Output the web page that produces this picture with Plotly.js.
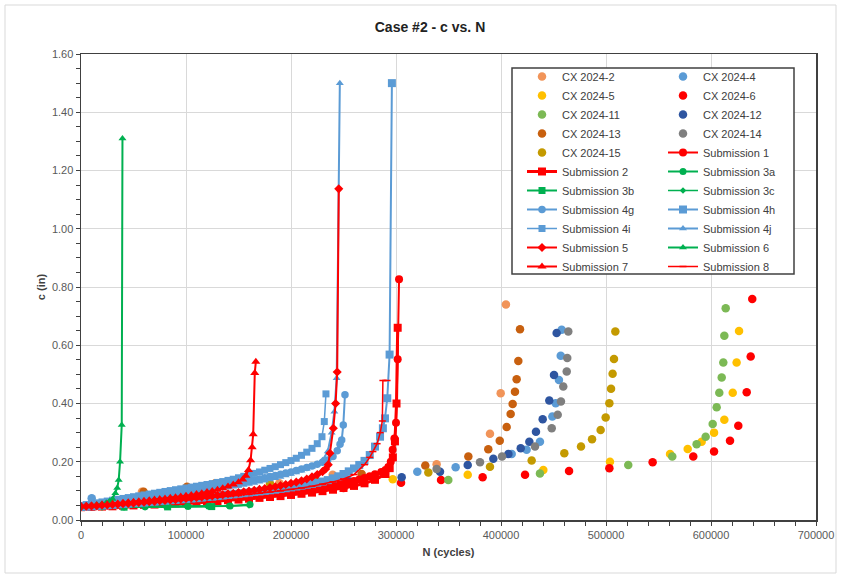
<!DOCTYPE html>
<html>
<head>
<meta charset="utf-8">
<script src="https://cdn.plot.ly/plotly-3.0.1.min.js"></script>
<style>html,body{margin:0;padding:0;background:#fff;}#chart{width:841px;height:577px;}</style>
</head>
<body>
<div id="chart"></div>
<script>
// ---------- CX test data (markers only) ----------
const cx2_N = [58000, 100600, 188900, 239700, 338700, 389500, 399700, 404700];
const cx2_c = [0.097, 0.112, 0.126, 0.155, 0.191, 0.296, 0.435, 0.740];

const cx4_N = [10200, 150000, 254000, 320300, 356800, 410200, 424400, 437100, 448900, 452100, 455200, 456900, 457800];
const cx4_c = [0.075, 0.125, 0.140, 0.166, 0.181, 0.227, 0.241, 0.269, 0.355, 0.401, 0.481, 0.564, 0.653];

const cx5_N = [100000, 200000, 296900, 368300, 440300, 503800, 561000, 577800, 591100, 602900, 612700, 620700, 624400, 626700];
const cx5_c = [0.092, 0.118, 0.140, 0.155, 0.172, 0.200, 0.227, 0.244, 0.269, 0.300, 0.344, 0.437, 0.541, 0.649];

const cx6_N = [150000, 250000, 304800, 342900, 382500, 422900, 464800, 503200, 544400, 583100, 602900, 618100, 626000, 634000, 637800, 639300];
const cx6_c = [0.090, 0.110, 0.128, 0.137, 0.147, 0.155, 0.168, 0.178, 0.198, 0.218, 0.235, 0.272, 0.324, 0.439, 0.561, 0.759];

const cx11_N = [260000, 349800, 437100, 521200, 563100, 586300, 594900, 601600, 605400, 607900, 610200, 611700, 612700, 614000];
const cx11_c = [0.120, 0.137, 0.160, 0.189, 0.218, 0.260, 0.286, 0.330, 0.387, 0.437, 0.489, 0.541, 0.633, 0.727];

const cx12_N = [254600, 305400, 341900, 368300, 392700, 407000, 418800, 427000, 433300, 439700, 446000, 450500, 453000];
const cx12_c = [0.132, 0.147, 0.166, 0.189, 0.210, 0.227, 0.246, 0.269, 0.303, 0.346, 0.410, 0.498, 0.642];

const cx13_N = [59700, 101000, 127900, 222900, 267300, 327900, 368900, 387900, 398800, 405400, 409200, 411100, 413300, 414900, 416500, 418100];
const cx13_c = [0.097, 0.114, 0.126, 0.143, 0.158, 0.187, 0.218, 0.243, 0.272, 0.319, 0.364, 0.398, 0.440, 0.483, 0.546, 0.655];

const cx14_N = [280000, 338700, 380000, 401000, 432400, 448300, 454000, 457100, 459300, 462600, 463100, 464100];
const cx14_c = [0.148, 0.175, 0.198, 0.218, 0.252, 0.315, 0.361, 0.407, 0.458, 0.510, 0.556, 0.647];

const cx15_N = [90000, 180000, 330800, 389500, 429200, 460300, 476200, 486700, 494900, 499700, 503200, 504800, 506300, 507600, 508900];
const cx15_c = [0.098, 0.125, 0.163, 0.183, 0.204, 0.229, 0.252, 0.277, 0.309, 0.352, 0.401, 0.451, 0.502, 0.553, 0.647];

// ---------- Submissions (lines + markers) ----------
const s1_N = [0,5000,10000,15000,20000,25000,30000,35000,40000,45000,50000,55000,60000,65000,70000,75000,80000,85000,90000,95000,100000,105000,110000,115000,120000,125000,130000,135000,140000,145000,150000,155000,160000,165000,170000,175000,180000,185000,190000,195000,200000,205000,210000,215000,220000,225000,230000,235000,240000,245000,250000,255000,260000,265000,270000,275000,280000,286000,290000,292700,295000,296800,298500,300000,301600,302900];
const s1_c = [0.045,0.046,0.046,0.047,0.048,0.049,0.050,0.051,0.052,0.053,0.054,0.055,0.056,0.057,0.058,0.059,0.060,0.061,0.063,0.064,0.065,0.066,0.068,0.069,0.070,0.072,0.073,0.075,0.076,0.078,0.079,0.081,0.083,0.084,0.086,0.088,0.090,0.092,0.094,0.096,0.098,0.100,0.103,0.105,0.108,0.110,0.113,0.116,0.119,0.122,0.126,0.130,0.134,0.139,0.144,0.150,0.157,0.165,0.172,0.182,0.200,0.241,0.280,0.334,0.552,0.827];

const s2_N = [0,10000,20000,30000,40000,50000,60000,70000,80000,90000,100000,110000,120000,130000,140000,150000,160000,170000,180000,190000,200000,210000,220000,230000,240000,250000,260000,270000,280000,290000,294000,297000,299000,300500,301600];
const s2_c = [0.044,0.045,0.046,0.047,0.049,0.050,0.052,0.053,0.055,0.057,0.059,0.061,0.063,0.065,0.068,0.070,0.073,0.076,0.079,0.082,0.086,0.090,0.094,0.099,0.104,0.110,0.117,0.126,0.138,0.158,0.178,0.215,0.270,0.400,0.660];

const s3a_N = [0, 20000, 41000, 61000, 82500, 102000, 122000, 142000, 161000];
const s3a_c = [0.046, 0.045, 0.045, 0.045, 0.046, 0.046, 0.047, 0.048, 0.053];

const s3b_N = [0, 41000, 82500, 124500];
const s3b_c = [0.044, 0.044, 0.045, 0.046];

const s3c_N = [0, 20000, 40000, 60000, 80000, 100000, 120000, 140000, 160000];
const s3c_c = [0.045, 0.045, 0.046, 0.046, 0.046, 0.047, 0.047, 0.048, 0.050];

const s4g_N = [0,5000,10000,15000,20000,25000,30000,35000,40000,45000,50000,55000,60000,65000,70000,75000,80000,85000,90000,95000,100000,105000,110000,115000,120000,125000,130000,135000,140000,145000,150000,155000,160000,165000,170000,175000,180000,185000,190000,195000,200000,205000,210000,215000,220000,225000,230000,235000,240000,244000,246700,248300,249800,251400];
const s4g_c = [0.048,0.050,0.052,0.054,0.057,0.059,0.061,0.064,0.066,0.068,0.071,0.073,0.076,0.078,0.081,0.083,0.086,0.088,0.091,0.094,0.097,0.099,0.102,0.105,0.108,0.111,0.114,0.117,0.120,0.124,0.127,0.130,0.134,0.137,0.141,0.145,0.149,0.153,0.157,0.161,0.165,0.170,0.175,0.180,0.185,0.191,0.198,0.206,0.218,0.238,0.260,0.275,0.326,0.430];

const s4h_N = [0,5000,10000,15000,20000,25000,30000,35000,40000,45000,50000,55000,60000,65000,70000,75000,80000,85000,90000,95000,100000,105000,110000,115000,120000,125000,130000,135000,140000,145000,150000,155000,160000,165000,170000,175000,180000,185000,190000,195000,200000,205000,210000,215000,220000,225000,230000,235000,240000,245000,250000,255000,260000,265000,270000,275000,280000,284800,287500,289500,291700,293900,296100];
const s4h_c = [0.045,0.046,0.047,0.049,0.050,0.051,0.052,0.054,0.055,0.056,0.058,0.059,0.060,0.062,0.063,0.065,0.066,0.068,0.069,0.071,0.072,0.074,0.075,0.077,0.079,0.080,0.082,0.084,0.086,0.088,0.090,0.092,0.094,0.096,0.098,0.100,0.102,0.104,0.107,0.109,0.112,0.115,0.118,0.121,0.124,0.128,0.132,0.137,0.143,0.150,0.158,0.167,0.177,0.189,0.203,0.223,0.252,0.286,0.315,0.349,0.418,0.568,1.500];

const s4i_N = [0,5000,10000,15000,20000,25000,30000,35000,40000,45000,50000,55000,60000,65000,70000,75000,80000,85000,90000,95000,100000,105000,110000,115000,120000,125000,130000,135000,140000,145000,150000,155000,160000,165000,170000,175000,180000,185000,190000,195000,200000,205000,210000,215000,220000,225000,229500,231700,233300];
const s4i_c = [0.050,0.053,0.056,0.059,0.062,0.065,0.068,0.071,0.074,0.077,0.080,0.083,0.086,0.089,0.092,0.095,0.098,0.101,0.104,0.107,0.110,0.113,0.116,0.119,0.122,0.125,0.129,0.132,0.136,0.140,0.145,0.150,0.155,0.160,0.165,0.171,0.177,0.183,0.190,0.197,0.204,0.212,0.222,0.233,0.246,0.262,0.286,0.338,0.433];

const s4j_N = [0,5000,10000,15000,20000,25000,30000,35000,40000,45000,50000,55000,60000,65000,70000,75000,80000,85000,90000,95000,100000,105000,110000,115000,120000,125000,130000,135000,140000,145000,150000,155000,160000,165000,170000,175000,180000,185000,190000,195000,200000,205000,210000,215000,220000,225000,230000,235000,238700,241300,243500,246500];
const s4j_c = [0.047,0.049,0.051,0.053,0.055,0.057,0.059,0.061,0.063,0.065,0.067,0.069,0.071,0.073,0.075,0.077,0.080,0.082,0.084,0.087,0.089,0.092,0.094,0.097,0.099,0.102,0.105,0.108,0.111,0.114,0.117,0.120,0.124,0.127,0.131,0.135,0.139,0.143,0.148,0.153,0.158,0.163,0.169,0.175,0.183,0.192,0.205,0.235,0.300,0.372,0.487,1.500];

const s5_N = [0,5000,10000,15000,20000,25000,30000,35000,40000,45000,50000,55000,60000,65000,70000,75000,80000,85000,90000,95000,100000,105000,110000,115000,120000,125000,130000,135000,140000,145000,150000,155000,160000,165000,170000,175000,180000,185000,190000,195000,200000,205000,210000,215000,220000,225000,230000,233000,235500,237100,240300,242500,244000,245500];
const s5_c = [0.046,0.047,0.048,0.049,0.051,0.052,0.053,0.054,0.056,0.057,0.058,0.060,0.061,0.063,0.064,0.066,0.067,0.069,0.070,0.072,0.074,0.076,0.077,0.079,0.081,0.083,0.085,0.087,0.090,0.092,0.094,0.097,0.099,0.102,0.105,0.108,0.111,0.114,0.118,0.122,0.126,0.130,0.135,0.141,0.148,0.156,0.166,0.175,0.190,0.229,0.315,0.400,0.508,1.137];

const s6_N = [0, 5000, 10000, 15000, 20000, 24000, 27000, 30000, 32700, 34500, 35900, 37200, 38800, 39500];
const s6_c = [0.046, 0.048, 0.050, 0.052, 0.055, 0.059, 0.064, 0.072, 0.092, 0.110, 0.137, 0.200, 0.326, 1.310];

const s7_N = [0,5000,10000,15000,20000,25000,30000,35000,40000,45000,50000,55000,60000,65000,70000,75000,80000,85000,90000,95000,100000,105000,110000,115000,120000,125000,130000,135000,140000,145000,150000,154000,157000,159500,161500,163000,164000,165500,166500];
const s7_c = [0.047,0.048,0.050,0.051,0.053,0.054,0.056,0.057,0.059,0.061,0.063,0.064,0.066,0.068,0.070,0.072,0.074,0.076,0.078,0.081,0.083,0.086,0.089,0.092,0.096,0.100,0.104,0.109,0.115,0.122,0.130,0.139,0.152,0.172,0.205,0.250,0.294,0.505,0.543];

const s8_N = [0,10000,20000,30000,40000,50000,60000,70000,80000,90000,100000,110000,120000,130000,140000,150000,160000,170000,180000,190000,200000,210000,220000,230000,240000,250000,260000,270000,275000,278000,282000,285000,287000,287500,291500];
const s8_c = [0.047,0.049,0.051,0.053,0.055,0.057,0.059,0.062,0.064,0.067,0.069,0.072,0.075,0.078,0.081,0.084,0.088,0.092,0.096,0.100,0.105,0.110,0.116,0.123,0.131,0.141,0.156,0.190,0.215,0.235,0.262,0.300,0.340,0.479,0.479];

// ---------- axis ticks ----------
const xTickVals = [0, 100000, 200000, 300000, 400000, 500000, 600000, 700000];
const yTickVals = [0, 0.2, 0.4, 0.6, 0.8, 1.0, 1.2, 1.4, 1.6];

const RED = '#FF0000', GREEN = '#00B050', BLUE = '#5B9BD5';

function cx(name, N, c, color, lg) {
  return {type: 'scatter', mode: 'markers', name: name, x: N, y: c, legend: lg,
    marker: {symbol: 'circle', size: 8.5, color: color, line: {width: 0}}};
}
function sub(name, N, c, color, symbol, msize, lw, lg) {
  return {type: 'scatter', mode: 'lines+markers', name: name, x: N, y: c, legend: lg,
    line: {color: color, width: lw},
    marker: {symbol: symbol, size: msize, color: color, line: {width: symbol.indexOf('line') === 0 ? 1.5 : 0, color: color}}};
}

const L1 = 'legend', L2 = 'legend2';
const traces = [
  cx('CX 2024-2', cx2_N, cx2_c, '#F19459', L1),
  cx('CX 2024-4', cx4_N, cx4_c, '#5B9BD5', L2),
  cx('CX 2024-5', cx5_N, cx5_c, '#FFC000', L1),
  cx('CX 2024-6', cx6_N, cx6_c, '#FF0000', L2),
  cx('CX 2024-11', cx11_N, cx11_c, '#7CB955', L1),
  cx('CX 2024-12', cx12_N, cx12_c, '#2E55A0', L2),
  cx('CX 2024-13', cx13_N, cx13_c, '#C8600F', L1),
  cx('CX 2024-14', cx14_N, cx14_c, '#7F7F7F', L2),
  cx('CX 2024-15', cx15_N, cx15_c, '#C49A00', L1),
  sub('Submission 1', s1_N, s1_c, RED, 'circle', 8, 2, L2),
  sub('Submission 2', s2_N, s2_c, RED, 'square', 8, 3, L1),
  sub('Submission 3a', s3a_N, s3a_c, GREEN, 'circle', 7, 2, L2),
  sub('Submission 3b', s3b_N, s3b_c, GREEN, 'square', 7, 2, L1),
  sub('Submission 3c', s3c_N, s3c_c, GREEN, 'diamond', 5, 1.5, L2),
  sub('Submission 4g', s4g_N, s4g_c, BLUE, 'circle', 7.5, 2, L1),
  sub('Submission 4h', s4h_N, s4h_c, BLUE, 'square', 8, 2, L2),
  sub('Submission 4i', s4i_N, s4i_c, BLUE, 'square', 7, 1.5, L1),
  sub('Submission 4j', s4j_N, s4j_c, BLUE, 'triangle-up', 7, 2, L2),
  sub('Submission 5', s5_N, s5_c, RED, 'diamond', 7, 2, L1),
  sub('Submission 6', s6_N, s6_c, GREEN, 'triangle-up', 7, 2, L2),
  sub('Submission 7', s7_N, s7_c, RED, 'triangle-up', 8, 2, L1),
  sub('Submission 8', s8_N, s8_c, RED, 'line-ew', 5, 1.5, L2)
];

const FONT = 'Liberation Sans, Arial, sans-serif';
const axisCommon = {
  showgrid: true, gridcolor: '#d9d9d9', gridwidth: 1,
  showline: true, linecolor: '#404040', linewidth: 1.5, mirror: true,
  ticks: 'outside', ticklen: 4, tickcolor: '#404040', tickwidth: 1,
  zeroline: false,
  tickfont: {family: FONT, size: 11, color: '#595959'}
};

// pixel helpers for layout positions only
const PX = v => (v - 81) / 735;
const PY = v => (520 - v) / 466;

const legendCommon = {
  orientation: 'v', yanchor: 'top', xanchor: 'left', y: PY(62),
  bgcolor: 'rgba(0,0,0,0)', borderwidth: 0,
  font: {family: FONT, size: 11, color: '#404040'},
  itemsizing: 'trace', itemwidth: 30, traceorder: 'normal'
};

const layout = {
  width: 841, height: 577,
  margin: {l: 81, r: 25, t: 54, b: 57},
  paper_bgcolor: '#ffffff', plot_bgcolor: '#ffffff',
  font: {family: FONT, color: '#404040'},
  title: {text: '<b>Case #2 - c vs. N</b>', x: 430/841, xanchor: 'center', y: 1 - 27/577, yanchor: 'middle',
          font: {family: FONT, size: 14, color: '#222222'}},
  xaxis: Object.assign({}, axisCommon, {
    range: [0, 700000], tickvals: xTickVals, tickformat: 'd',
    minor: {dtick: 20000, ticks: 'outside', ticklen: 4, tickcolor: '#404040', showgrid: false},
    title: {text: '<b>N (cycles)</b>', font: {family: FONT, size: 11, color: '#404040'}, standoff: 8}
  }),
  yaxis: Object.assign({}, axisCommon, {
    range: [0, 1.6], tickvals: yTickVals, tickformat: '.2f',
    minor: {dtick: 0.05, ticks: 'outside', ticklen: 4, tickcolor: '#404040', showgrid: false},
    title: {text: '<b>c (in)</b>', font: {family: FONT, size: 11, color: '#404040'}, standoff: 4}
  }),
  legend: Object.assign({}, legendCommon, {x: PX(522)}),
  legend2: Object.assign({}, legendCommon, {x: PX(663)}),
  shapes: [
    {type: 'rect', xref: 'paper', yref: 'paper',
     x0: (5-81)/735, x1: (836-81)/735, y0: (520-573)/466, y1: (520-5)/466,
     line: {color: '#d9d9d9', width: 1}, fillcolor: 'rgba(0,0,0,0)', layer: 'below'},
    {type: 'rect', xref: 'paper', yref: 'paper',
     x0: PX(512), x1: PX(794), y0: PY(274), y1: PY(68),
     line: {color: '#404040', width: 1.5}, fillcolor: '#ffffff', layer: 'above'}
  ],
  showlegend: true
};

Plotly.newPlot('chart', traces, layout, {displayModeBar: false, staticPlot: true});
</script>
</body>
</html>
